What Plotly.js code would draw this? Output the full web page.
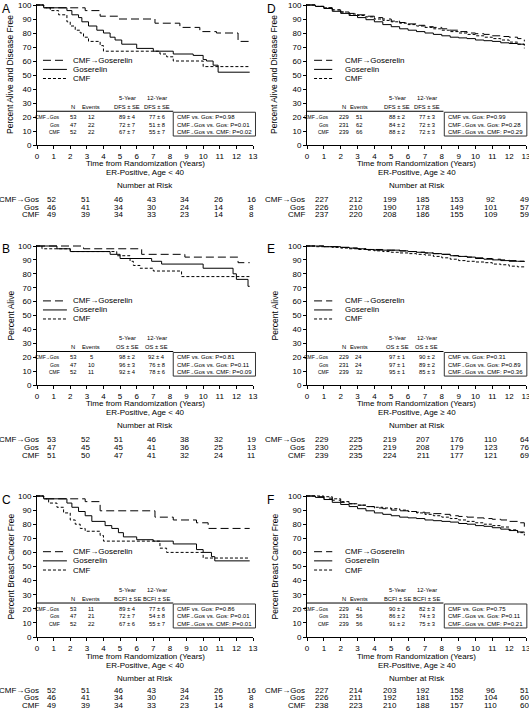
<!DOCTYPE html>
<html><head><meta charset="utf-8">
<script src="https://cdn.plot.ly/plotly-3.0.1.min.js"></script>
<style>html,body{margin:0;padding:0;background:#fff;}#chart{width:529px;height:712px;}</style>
</head><body><div id="chart"></div>
<script>
// ---------------- DATA ----------------
const groups = ["CMF→Gos", "Gos", "CMF"];
const legendNames = ["CMF→Goserelin", "Goserelin", "CMF"];
const riskTimes = [0.9, 2.9, 4.9, 6.9, 8.9, 10.9, 12.9];
const gridT = [0,0.5,1,1.5,2,2.5,3,3.5,4,4.5,5,5.5,6,6.5,7,7.5,8,8.5,9,9.5,10,10.5,11,11.5,12,12.5,12.9];

// Panel A: DFS, age < 40
const A_cg_t  = [0,0.4,2.9,3.8,4.9,7.1,8.6,9.8,10.8,12.1,12.8];
const A_cg_v  = [100,98,96,92,90,87,84,81,80,74,74];
const A_gos_t = [0,0.4,1.8,2.1,2.5,2.7,3.1,3.6,4.0,4.4,4.7,5.1,6.0,7.0,8.2,9.4,10.0,10.2,10.6,10.9,12.8];
const A_gos_v = [100,98,96,93,91,88,85,82,80,77,75,72,69,67,65,64,61,60,57,52,52];
const A_cmf_t = [0,0.4,0.8,1.3,1.8,2.0,2.3,2.6,2.8,3.1,3.8,4.0,7.4,7.8,8.2,10.0,12.8];
const A_cmf_v = [100,98,96,93,88,85,82,80,77,74,71,67,65,63,60,56,56];
const A_n = [53,47,52], A_ev = [12,22,22];
const A_5y = ["89 ± 4","72 ± 7","67 ± 7"], A_12y = ["77 ± 6","51 ± 8","55 ± 7"];
const A_p = ["CMF vs. Gos: P=0.98","CMF→Gos vs. Gos: P=0.01","CMF→Gos vs. CMF: P=0.02"];
const A_risk = [[52,51,46,43,34,26,16],[46,41,34,30,24,14,8],[49,39,34,33,23,14,8]];

// Panel B: OS, age < 40
const B_cg_t  = [0,2.8,6.3,8.9,12.1,12.8];
const B_cg_v  = [100,98,94,92,88,88];
const B_gos_t = [0,1.2,2.0,4.4,5.0,6.9,7.5,10.0,11.8,12.0,12.7,12.8];
const B_gos_v = [100,98,96,94,91,89,87,84,80,76,71,71];
const B_cmf_t = [0,0.3,2.0,4.8,5.6,5.8,6.2,7.0,8.7,12.8];
const B_cmf_v = [100,98,96,93,89,86,84,82,78,78];
const B_n = [53,47,52], B_ev = [5,10,11];
const B_5y = ["98 ± 2","96 ± 3","92 ± 4"], B_12y = ["92 ± 4","76 ± 8","78 ± 6"];
const B_p = ["CMF vs. Gos: P=0.81","CMF→Gos vs. Gos: P=0.11","CMF→Gos vs. CMF: P=0.09"];
const B_risk = [[53,52,51,46,38,32,19],[47,45,45,41,36,25,13],[51,50,47,41,32,24,11]];

// Panel C: BCFI, age < 40
const C_cg_t  = [0,0.4,2.9,3.8,7.1,8.2,9.6,10.3,12.8];
const C_cg_v  = [100,98,96,89.5,85,83,81,77,77];
const C_gos_t = [0,0.4,1.8,2.1,2.5,2.9,3.3,4.1,4.5,4.9,5.2,6.0,7.0,8.2,9.6,10.0,10.5,10.7,12.8];
const C_gos_v = [100,98,95,92,89,86,82,79,77,74,71,69,68,66,62,60,57,54,54];
const C_cmf_t = [0,0.4,0.7,1.2,1.6,2.0,2.3,2.6,2.9,3.8,4.0,7.4,7.8,10.0,12.8];
const C_cmf_v = [100,98,95,92,88,83,80,77,75,72,68,63,60,56,56];
const C_n = [53,47,52], C_ev = [11,21,22];
const C_5y = ["89 ± 4","72 ± 7","67 ± 6"], C_12y = ["77 ± 6","54 ± 8","55 ± 7"];
const C_p = ["CMF vs. Gos: P=0.86","CMF→Gos vs. Gos: P=0.01","CMF→Gos vs. CMF: P=0.01"];
const C_risk = [[52,51,46,43,34,26,16],[46,41,34,30,24,15,8],[49,39,34,33,23,14,8]];

// Panel D: DFS, age >= 40
const D_cg_v  = [100,99,98,96.5,95,94,93,92,91,90,88.5,87.5,86.5,85.5,84.5,84,83,82,81,80,79.5,79,78,77.5,77,76,74];
const D_gos_v = [100,99,97.5,95.5,94,92.5,91,89.5,88,86,84.5,83,82,81,80,79,78,77,76.5,76,75,74.5,74,73,72.5,72,71.5];
const D_cmf_v = [100,99,98,96.5,95,93.5,92.5,91.5,90,89,88,87,86,85,84,83,82,81,80,79,78,77,76,75,73.5,72,69];
const D_n = [229,231,239], D_ev = [51,62,66];
const D_5y = ["88 ± 2","84 ± 2","88 ± 2"], D_12y = ["77 ± 3","72 ± 3","72 ± 3"];
const D_p = ["CMF vs. Gos: P=0.99","CMF→Gos vs. Gos: P=0.28","CMF→Gos vs. CMF: P=0.29"];
const D_risk = [[227,212,199,185,153,92,49],[226,210,190,178,149,101,57],[237,220,208,186,155,109,59]];

// Panel E: OS, age >= 40
const E_cg_v  = [100,100,99.5,99.5,99,98.5,98,97.5,97.5,97,97,96.5,96,95.5,95,94.5,94,93,92.5,92,91.5,91,90.5,90,89.5,89,89];
const E_gos_v = [100,100,99.5,99.5,99,98.5,98,97.5,97,97,97,96.5,96,95.5,95,94.5,94,93,92.5,92,91,90.5,90,89.5,89,89,88.5];
const E_cmf_v = [100,99.5,99.5,99,98.5,98,97.5,97,96.5,96,95.5,95,94.5,94,93.5,92.5,91.5,90.5,89.5,89,88.5,88,87,86.5,85.5,85,84];
const E_n = [229,231,239], E_ev = [24,24,32];
const E_5y = ["97 ± 1","97 ± 1","95 ± 1"], E_12y = ["90 ± 2","89 ± 2","85 ± 3"];
const E_p = ["CMF vs. Gos: P=0.31","CMF→Gos vs. Gos: P=0.89","CMF→Gos vs. CMF: P=0.36"];
const E_risk = [[229,225,219,207,176,110,64],[230,225,219,208,179,123,76],[239,235,224,211,177,121,69]];

// Panel F: BCFI, age >= 40
const F_cg_v  = [100,99.5,98.5,97,95.5,94.5,93.5,92.5,91.5,91,90,89.5,89,88.5,88,87.5,87,86,85.5,85,84.5,84,83.5,83,82,81,78];
const F_gos_v = [100,99,97.5,95.5,94,92.5,91,89.5,88,87,86,85,84.5,84,83,82.5,82,81.5,80.5,80,79,78.5,77.5,76.5,75.5,74.5,74];
const F_cmf_v = [100,100,99.5,98,96,94.5,93.5,92.5,92,91.5,91,90,89,88,87,86,85,84,83,82,81,80,79,78,76,74,72];
const F_n = [229,231,239], F_ev = [41,56,56];
const F_5y = ["90 ± 2","86 ± 2","91 ± 2"], F_12y = ["82 ± 3","74 ± 3","75 ± 3"];
const F_p = ["CMF vs. Gos: P=0.75","CMF→Gos vs. Gos: P=0.11","CMF→Gos vs. CMF: P=0.21"];
const F_risk = [[227,214,203,192,158,96,51],[226,211,192,181,152,104,60],[238,223,210,188,157,110,60]];

const xTitle = "Time from Randomization (Years)";
const subLeft = "ER-Positive, Age < 40", subRight = "ER-Positive, Age ≥ 40";

// ---------------- LAYOUT / STYLE ----------------
const W = 529, H = 712;
const FONT = "Liberation Sans, Arial, Helvetica, sans-serif";
const dashes = ["8px,4px", "solid", "3px,2px"];
const smallArrow = s => s.replace('→', '<span style="font-size:4px">→</span>');

const cols = [
  {x0:37, x1:253, yTitleX:10, letterX:1, riskLabelX:40,
   lab:1.45, n:2.17, ev:3.25, y5:5.42, y12:7.2, line:[0,8.2], box:[8.2,13.15], ptx:8.36, leg:[0.36,1.8], legText:2.1},
  {x0:307, x1:526, yTitleX:274, letterX:266, riskLabelX:306,
   lab:1.38, n:2.2, ev:3.06, y5:5.37, y12:7.12, line:[0,8.1], box:[8.15,13.05], ptx:8.3, leg:[0.42,1.5], legText:2.2}
];
const rows = [
  {top:5, bot:145, title:163.5, sub:172, nar:185, risk:[199.5,207,214.5], letterY:9},
  {top:246, bot:385, title:403.5, sub:412, nar:425, risk:[440,447.5,455], letterY:249},
  {top:496, bot:637, title:656, sub:665, nar:678, risk:[690,697.5,705], letterY:500}
];
const tbl = {h1:33.6, h2:27.3, line:24.1, rows:[20,14.6,9.3], boxTop:23.4, boxBot:6.4};
const legV = [60.5, 54, 47.5];

const panels = [
  {letter:'A', col:0, row:0, yTitle:'Percent Alive and Disease Free', est:'DFS', sub:subLeft,
   t:[A_cg_t,A_gos_t,A_cmf_t], v:[A_cg_v,A_gos_v,A_cmf_v], n:A_n, ev:A_ev, y5:A_5y, y12:A_12y, p:A_p, risk:A_risk},
  {letter:'B', col:0, row:1, yTitle:'Percent Alive', est:'OS', sub:subLeft,
   t:[B_cg_t,B_gos_t,B_cmf_t], v:[B_cg_v,B_gos_v,B_cmf_v], n:B_n, ev:B_ev, y5:B_5y, y12:B_12y, p:B_p, risk:B_risk},
  {letter:'C', col:0, row:2, yTitle:'Percent Breast Cancer Free', est:'BCFI', sub:subLeft,
   t:[C_cg_t,C_gos_t,C_cmf_t], v:[C_cg_v,C_gos_v,C_cmf_v], n:C_n, ev:C_ev, y5:C_5y, y12:C_12y, p:C_p, risk:C_risk},
  {letter:'D', col:1, row:0, yTitle:'Percent Alive and Disease Free', est:'DFS', sub:subRight,
   t:[gridT,gridT,gridT], v:[D_cg_v,D_gos_v,D_cmf_v], n:D_n, ev:D_ev, y5:D_5y, y12:D_12y, p:D_p, risk:D_risk},
  {letter:'E', col:1, row:1, yTitle:'Percent Alive', est:'OS', sub:subRight,
   t:[gridT,gridT,gridT], v:[E_cg_v,E_gos_v,E_cmf_v], n:E_n, ev:E_ev, y5:E_5y, y12:E_12y, p:E_p, risk:E_risk},
  {letter:'F', col:1, row:2, yTitle:'Percent Breast Cancer Free', est:'BCFI', sub:subRight,
   t:[gridT,gridT,gridT], v:[F_cg_v,F_gos_v,F_cmf_v], n:F_n, ev:F_ev, y5:F_5y, y12:F_12y, p:F_p, risk:F_risk}
];

const traces = [];
const layout = {
  width:W, height:H, margin:{l:0,r:0,t:0,b:0}, showlegend:false,
  paper_bgcolor:'#fff', plot_bgcolor:'rgba(0,0,0,0)',
  font:{family:FONT, size:8, color:'#000'},
  shapes:[], annotations:[]
};

function ann(x, y, text, size, xanchor, extra) {
  layout.annotations.push(Object.assign({
    xref:'paper', yref:'paper', x:x, y:y, text:text, showarrow:false,
    xanchor:xanchor||'center', yanchor:'middle', font:{family:FONT, size:size, color:'#000'}, borderpad:0
  }, extra||{}));
}

panels.forEach((p, i) => {
  const k = i + 1, suf = k > 1 ? String(k) : '';
  const c = cols[p.col], r = rows[p.row];
  const s = (r.bot - r.top) / 100;
  const X = t => (c.x0 + t * (c.x1 - c.x0) / 13) / W;
  const Y = v => 1 - (r.bot - v * s) / H;
  const Ypx = py => 1 - py / H;

  const axBase = {showline:true, linecolor:'#000', linewidth:1, ticks:'outside', ticklen:3, tickwidth:1,
    tickcolor:'#000', showgrid:false, zeroline:false, fixedrange:true, ticklabeloverflow:'allow',
    tickfont:{family:FONT, size:8, color:'#000'}};
  layout['xaxis' + suf] = Object.assign({}, axBase, {domain:[c.x0 / W, c.x1 / W], range:[0, 13],
    tickmode:'linear', tick0:0, dtick:1, anchor:'y' + suf});
  layout['yaxis' + suf] = Object.assign({}, axBase, {domain:[1 - r.bot / H, 1 - (r.top - s) / H], range:[0, 101],
    tickmode:'linear', tick0:0, dtick:10, anchor:'x' + suf});

  // survival curves
  for (let g = 0; g < 3; g++) {
    traces.push({x:p.t[g], y:p.v[g], xaxis:'x' + suf, yaxis:'y' + suf, type:'scatter', mode:'lines',
      line:{shape:'hv', color:'#000', width:1, dash:dashes[g]}, hoverinfo:'skip', name:legendNames[g]});
  }

  // legend
  for (let g = 0; g < 3; g++) {
    layout.shapes.push({type:'line', xref:'paper', yref:'paper', x0:X(c.leg[0]), x1:X(c.leg[1]),
      y0:Y(legV[g]), y1:Y(legV[g]), line:{color:'#000', width:1, dash:dashes[g]}});
    ann(X(c.legText), Y(legV[g]), legendNames[g], 8, 'left');
  }

  // statistics table
  const TF = 5.8;
  ann(X(c.y5), Y(tbl.h1), '5-Year', TF);
  ann(X(c.y12), Y(tbl.h1), '12-Year', TF);
  ann(X(c.n), Y(tbl.h2), 'N', TF);
  ann(X(c.ev), Y(tbl.h2), 'Events', TF);
  ann(X(c.y5), Y(tbl.h2), p.est + ' ± SE', TF);
  ann(X(c.y12), Y(tbl.h2), p.est + ' ± SE', TF);
  layout.shapes.push({type:'line', xref:'paper', yref:'paper', x0:X(c.line[0]), x1:X(c.line[1]),
    y0:Y(tbl.line), y1:Y(tbl.line), line:{color:'#000', width:1}});
  layout.shapes.push({type:'rect', xref:'paper', yref:'paper', x0:X(c.box[0]), x1:X(c.box[1]),
    y0:Y(tbl.boxBot), y1:Y(tbl.boxTop), line:{color:'#333', width:1}, fillcolor:'rgba(0,0,0,0)'});
  for (let g = 0; g < 3; g++) {
    const yy = Y(tbl.rows[g]);
    ann(X(c.lab), yy, smallArrow(groups[g]), 5, 'right');
    ann(X(c.n), yy, String(p.n[g]), TF);
    ann(X(c.ev), yy, String(p.ev[g]), TF);
    ann(X(c.y5), yy, p.y5[g], TF);
    ann(X(c.y12), yy, p.y12[g], TF);
    ann(X(c.ptx), yy, smallArrow(p.p[g]), 6, 'left');
  }

  // titles
  ann(X(6.5), Ypx(r.title), xTitle, 8);
  ann(X(6.5), Ypx(r.sub), p.sub, 8);
  ann(c.yTitleX / W, Ypx((r.top + r.bot) / 2), p.yTitle, 8.5, 'center', {textangle:-90});
  ann(c.letterX / W, Ypx(r.letterY), p.letter, 12, 'left');

  // number at risk
  ann(X(6.5), Ypx(r.nar), 'Number at Risk', 8);
  for (let g = 0; g < 3; g++) {
    const yy = Ypx(r.risk[g]);
    ann(c.riskLabelX / W, yy, groups[g], 8, 'right');
    p.risk[g].forEach((val, j) => ann(X(riskTimes[j]), yy, String(val), 8));
  }
});

Plotly.newPlot('chart', traces, layout, {staticPlot:true, displayModeBar:false});
</script>
</body></html>
